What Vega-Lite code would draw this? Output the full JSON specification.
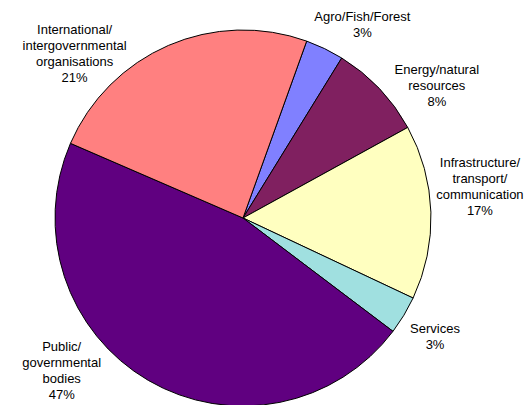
{
  "$schema": "https://vega.github.io/schema/vega-lite/v6.json",
  "width": 486,
  "height": 436,
  "padding": {"left": 0, "top": 0, "right": 39, "bottom": 0},
  "autosize": {"type": "none"},
  "background": "white",
  "config": {
    "view": {"stroke": null},
    "text": {"font": "Liberation Sans", "fontSize": 13, "lineHeight": 16, "lineBreak": "\n", "fill": "#000000", "align": "center", "baseline": "middle"}
  },
  "data": {
    "values": [
      {"rank": 1, "sector": "Agro/Fish/Forest", "share": 3.3, "label": "Agro/Fish/Forest\n3%"},
      {"rank": 2, "sector": "Energy/natural resources", "share": 8.2, "label": "Energy/natural\nresources\n8%"},
      {"rank": 3, "sector": "Infrastructure/transport/communication", "share": 15.0, "label": "Infrastructure/\ntransport/\ncommunication\n17%"},
      {"rank": 4, "sector": "Services", "share": 3.3, "label": "Services\n3%"},
      {"rank": 5, "sector": "Public/governmental bodies", "share": 46.2, "label": "Public/\ngovernmental\nbodies\n47%"},
      {"rank": 6, "sector": "International/intergovernmental organisations", "share": 24.0, "label": "International/\nintergovernmental\norganisations\n21%"}
    ]
  },
  "encoding": {
    "theta": {"field": "share", "type": "quantitative", "stack": true, "scale": {"range": [0.34558, 6.62877]}},
    "order": {"field": "rank", "type": "quantitative"}
  },
  "layer": [
    {
      "mark": {"type": "arc", "radius": 188, "stroke": "#000000", "strokeWidth": 1},
      "encoding": {
        "color": {
          "field": "sector",
          "type": "nominal",
          "legend": null,
          "scale": {
            "domain": ["Agro/Fish/Forest", "Energy/natural resources", "Infrastructure/transport/communication", "Services", "Public/governmental bodies", "International/intergovernmental organisations"],
            "range": ["#8080FF", "#802060", "#FFFFC0", "#A0E0E0", "#600080", "#FF8080"]
          }
        }
      }
    },
    {
      "mark": {"type": "text", "radius": 215, "dx": 26, "dy": -7},
      "encoding": {"text": {"condition": {"test": "datum.rank === 1", "field": "label", "type": "nominal"}, "value": ""}}
    },
    {
      "mark": {"type": "text", "radius": 215, "dx": 38, "dy": 0},
      "encoding": {"text": {"condition": {"test": "datum.rank === 2", "field": "label", "type": "nominal"}, "value": ""}}
    },
    {
      "mark": {"type": "text", "radius": 215, "dx": 22, "dy": -48},
      "encoding": {"text": {"condition": {"test": "datum.rank === 3", "field": "label", "type": "nominal"}, "value": ""}}
    },
    {
      "mark": {"type": "text", "radius": 215, "dx": 8, "dy": 0},
      "encoding": {"text": {"condition": {"test": "datum.rank === 4", "field": "label", "type": "nominal"}, "value": ""}}
    },
    {
      "mark": {"type": "text", "radius": 215, "dx": -73, "dy": -57},
      "encoding": {"text": {"condition": {"test": "datum.rank === 5", "field": "label", "type": "nominal"}, "value": ""}}
    },
    {
      "mark": {"type": "text", "radius": 215, "dx": -83, "dy": 9},
      "encoding": {"text": {"condition": {"test": "datum.rank === 6", "field": "label", "type": "nominal"}, "value": ""}}
    }
  ]
}
